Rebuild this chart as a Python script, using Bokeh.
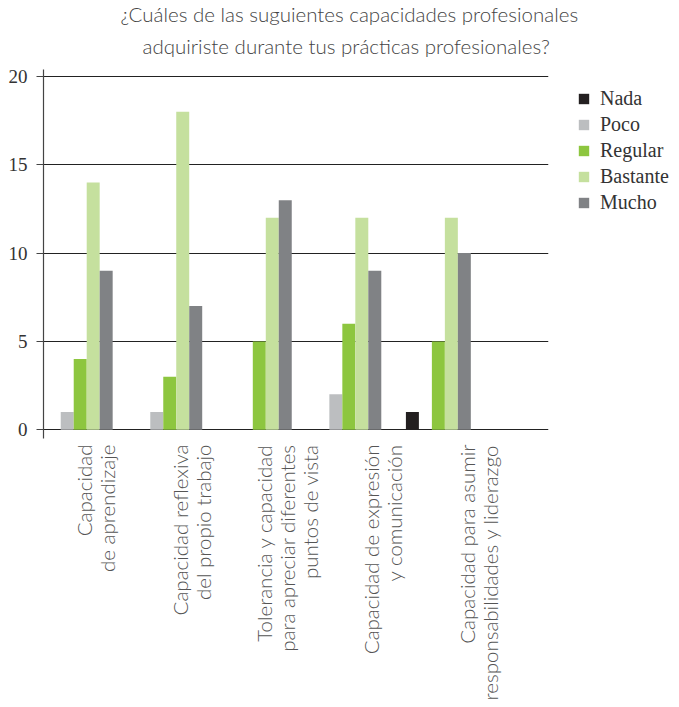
import numpy as np
from bokeh.plotting import figure
from bokeh.models import (ColumnDataSource, Range1d, FixedTicker, Legend, LegendItem,
                          Title, SingleIntervalTicker)
from bokeh.transform import dodge
from bokeh.embed import file_html
from bokeh.resources import INLINE

categories = [
    "Capacidad\nde aprendizaje",
    "Capacidad reflexiva\ndel propio trabajo",
    "Tolerancia y capacidad\npara apreciar diferentes\npuntos de vista",
    "Capacidad de expresión\ny comunicación",
    "Capacidad para asumir\nresponsabilidades y liderazgo",
]
series = ["Nada", "Poco", "Regular", "Bastante", "Mucho"]
nada = [0, 0, 0, 0, 1]
poco = [1, 1, 0, 2, 0]
regular = [4, 3, 5, 6, 5]
bastante = [14, 18, 12, 12, 12]
mucho = [9, 7, 13, 9, 10]
colors = ["#231f20", "#bcbec0", "#8dc63f", "#c5e09e", "#808285"]

x_idx = list(range(len(categories)))
src = ColumnDataSource(dict(x=x_idx, Nada=nada, Poco=poco, Regular=regular,
                            Bastante=bastante, Mucho=mucho))

p = figure(output_backend="svg", toolbar_location=None,
           x_range=Range1d(-0.41, 5.23), y_range=Range1d(-0.5, 20.4),
           frame_width=505, frame_height=369,
           min_border_left=43, min_border_right=115, min_border_top=60,
           min_border_bottom=262)
p.outline_line_color = None
p.background_fill_color = "white"

bw = 0.145
items = []
for k, s in enumerate(series):
    r = p.vbar(x=dodge("x", (k - 2) * bw, range=p.x_range), top=s, width=bw,
               source=src, fill_color=colors[k], line_color=None)
    items.append(LegendItem(label=s, renderers=[r]))

# y axis
p.yaxis.ticker = SingleIntervalTicker(interval=5)
p.yaxis.minor_tick_line_color = None
p.yaxis.major_tick_in = 0
p.yaxis.major_tick_out = 7
p.yaxis.major_tick_line_color = "#444444"
p.yaxis.axis_line_color = "#444444"
p.yaxis.axis_line_width = 1.2
p.yaxis.major_label_text_font = "Liberation Serif"
p.yaxis.major_label_text_font_size = "19px"
p.yaxis.major_label_text_color = "#333333"
p.yaxis.major_label_standoff = 9
p.ygrid.grid_line_color = "#222222"
p.ygrid.grid_line_width = 1.1
p.xgrid.grid_line_color = None

# x axis (labels sit a little right of their bar groups and spread wider, as in the original)
label_shift = 0.17
label_spread = 1.07
ticks = [i * label_spread + label_shift for i in x_idx]
p.xaxis.ticker = FixedTicker(ticks=ticks)
p.xaxis.major_label_overrides = {t: c for t, c in zip(ticks, categories)}
p.xaxis.major_label_orientation = np.pi / 2
p.xaxis.axis_line_color = None
p.xaxis.major_tick_line_color = None
p.xaxis.minor_tick_line_color = None
p.xaxis.major_label_text_font = "Lato Light"
p.xaxis.major_label_text_font_size = "20.5px"
p.xaxis.major_label_text_color = "#555555"
p.xaxis.major_label_text_line_height = 0.96
p.xaxis.major_label_standoff = 0

legend = Legend(items=items, location=(29, 224), margin=0, padding=0,
                glyph_width=13, glyph_height=13, label_height=20, spacing=3,
                label_text_font="Liberation Serif", label_text_font_size="20px",
                label_text_color="#333333", label_standoff=10,
                border_line_color=None, background_fill_alpha=0)
p.add_layout(legend, "right")

p.add_layout(Title(text="adquiriste durante tus prácticas profesionales?", align="left",
                   offset=99, standoff=19, vertical_align="top",
                   text_font="Lato Light", text_font_size="20.5px",
                   text_font_style="normal", text_color="#444444"), "above")
p.add_layout(Title(text="¿Cuáles de las suguientes capacidades profesionales", align="left",
                   offset=77, standoff=-2, text_font="Lato Light", text_font_size="20.5px",
                   text_font_style="normal", text_color="#444444"), "above")

open("out.html", "w").write(file_html(p, INLINE))
